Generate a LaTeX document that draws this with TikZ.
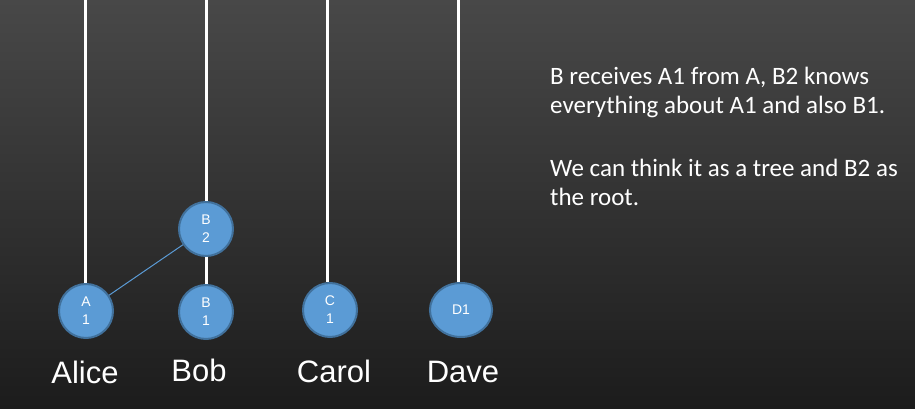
\documentclass[tikz,border=0pt]{standalone}
\usepackage{fontspec}
\setmainfont{Liberation Sans}
\newfontfamily\calib{Carlito}
\definecolor{nodefill}{HTML}{5B9BD5}
\definecolor{nodeedge}{HTML}{41719C}
\definecolor{bgtop}{HTML}{484848}
\definecolor{bgbot}{HTML}{1C1C1C}
\begin{document}
\begin{tikzpicture}[x=1pt,y=1pt,
  proc/.style={circle,fill=nodefill,draw=nodeedge,line width=2pt,minimum size=54pt,inner sep=0pt,text=white,font=\fontsize{14}{18}\selectfont,align=center},
  timeline/.style={draw=white,line width=3pt},
  who/.style={text=white,font=\fontsize{31}{34}\selectfont,anchor=base},
]
\shade[top color=bgtop,bottom color=bgbot] (0,0) rectangle (915,409);
\useasboundingbox (0,0) rectangle (915,409);
% tops of timelines
\coordinate (ta) at (85,409);
\coordinate (tb) at (206,409);
\coordinate (tc) at (327,409);
\coordinate (td) at (458,409);
% nodes
\node[proc] (a1) at (86,98) {A\\1};
\node[proc] (b1) at (206,97) {B\\1};
\node[proc] (b2) at (206,180) {B\\2};
\node[proc] (c1) at (330,99) {C\\1};
\node[proc,xscale=1.15] (d1) at (461,99) {};
\node[text=white,font=\fontsize{14}{18}\selectfont] (d1t) at (d1) {D1};
% timelines
\draw[timeline] (ta) -- (ta |- a1.north);
\draw[timeline] (tb) -- (b2.north);
\draw[timeline] (b2.south) -- (b1.north);
\draw[timeline] (tc) -- (tc |- c1.north);
\draw[timeline] (td) -- (td |- d1.north);
% message
\draw[nodefill,line width=1pt] (a1) -- (b2);
% names
\node[who] (alice) at (85,25) {Alice};
\node[who] (bob) at (199,27) {Bob};
\node[who] (carol) at (334,26) {Carol};
\node[who] (dave) at (463,26) {Dave};
% text
\node[anchor=north west,text=white,align=left,font=\calib\fontsize{25}{29}\selectfont,inner sep=0pt] (txt) at (550,342)
 {B receives A1 from A, B2 knows\\everything about A1 and also B1.\\[34pt]We can think it as a tree and B2 as\\the root.};
\end{tikzpicture}
\end{document}
